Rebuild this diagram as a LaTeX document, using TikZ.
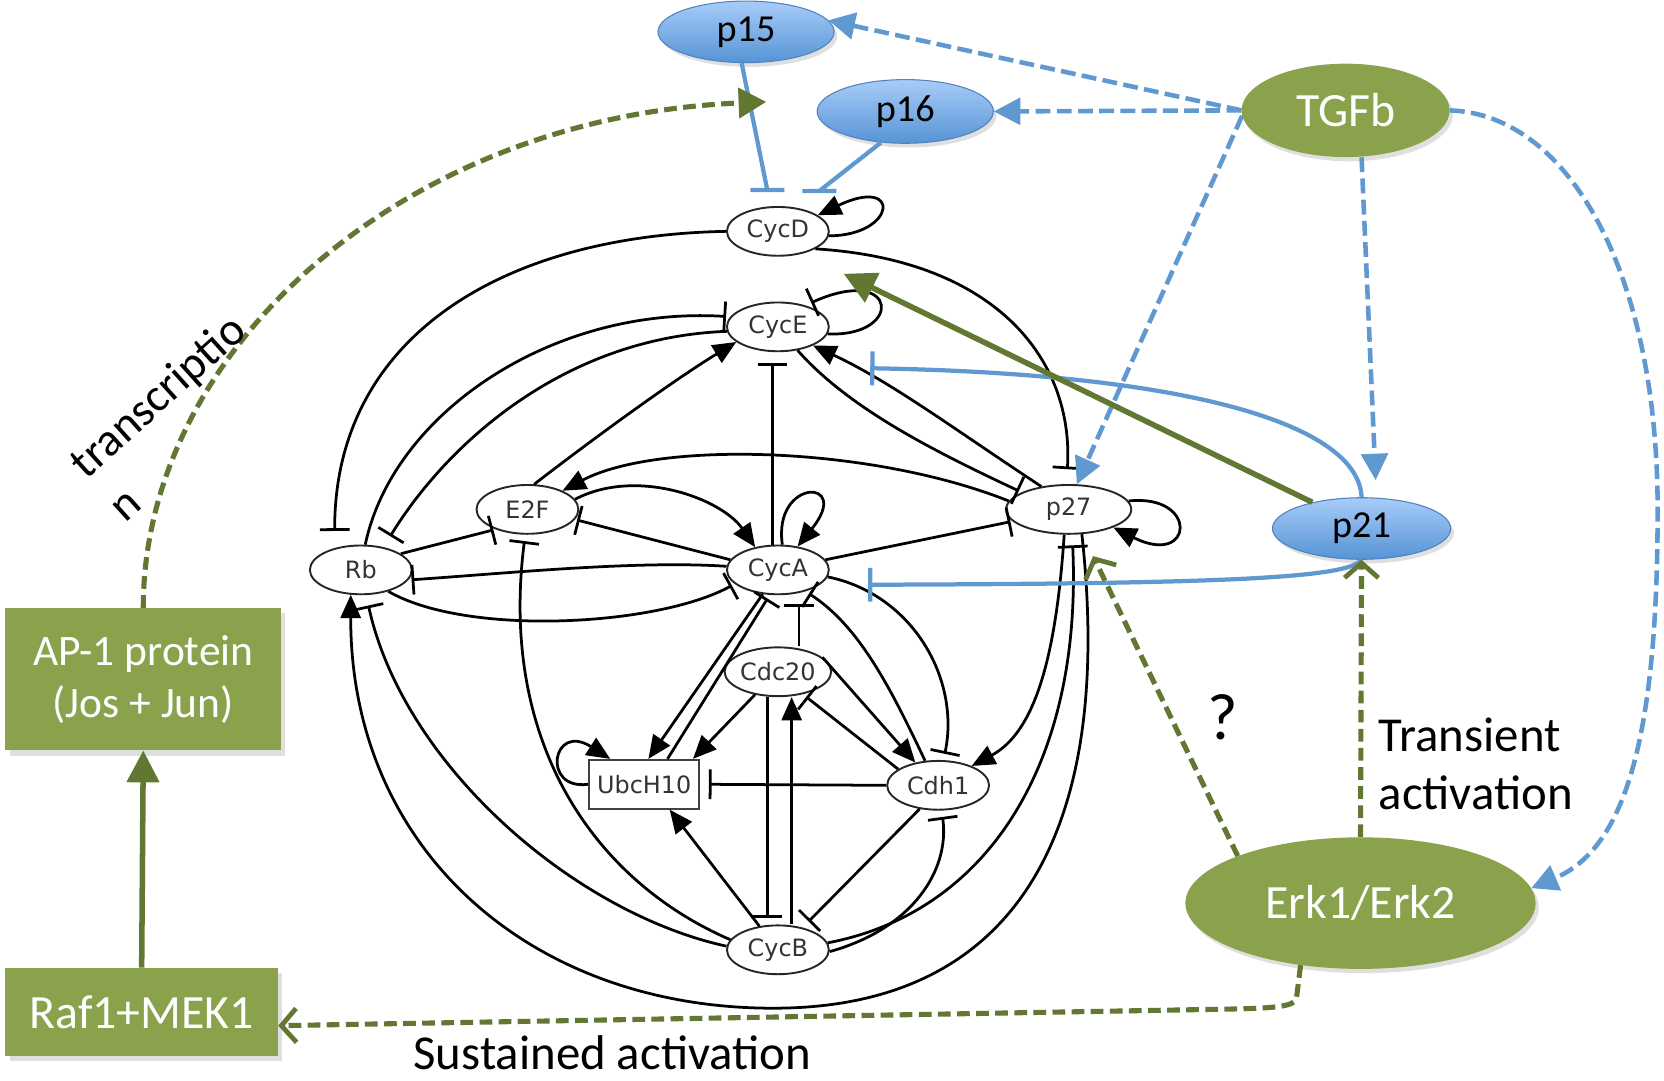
\documentclass[tikz,border=0pt]{standalone}
\usepackage{fontspec}
\setmainfont{Carlito}
\newfontfamily\netfont{DejaVu Sans}
\usetikzlibrary{arrows.meta,shapes.geometric,shadows}
\definecolor{bluetop}{RGB}{168,204,248}
\definecolor{bluebot}{RGB}{86,148,214}
\definecolor{blueedge}{RGB}{80,130,190}
\definecolor{blueline}{RGB}{96,152,208}
\definecolor{olivefill}{RGB}{139,162,76}
\definecolor{olivedark}{RGB}{98,119,50}
\begin{document}
\begin{tikzpicture}[x=1pt,y=-1pt,
  netnode/.style={ellipse, draw=black!85, line width=1.8pt, minimum width=96pt, minimum height=46pt, inner sep=0pt, font=\netfont\fontsize{22.5}{26}\selectfont, text=black!80, fill=white},
  netbox/.style={rectangle, draw=black!75, line width=1.8pt, minimum width=104pt, minimum height=46pt, inner sep=0pt, font=\netfont\fontsize{22.5}{26}\selectfont, text=black!80, fill=white},
  net/.style={line width=2.6pt, black},
  act/.style={net, -{Triangle[length=22pt,width=19pt]}},
  inh/.style={net, -{Bar[width=28pt]}},
  bluenode/.style={ellipse, draw=blueedge, line width=1pt, top color=bluetop, bottom color=bluebot, minimum width=166pt, minimum height=58pt, inner sep=0pt, font=\fontsize{36}{42}\selectfont, text=black, drop shadow={opacity=0.25, shadow xshift=3pt, shadow yshift=-4pt}},
  olivenode/.style={ellipse, fill=olivefill, inner sep=0pt, text=white, font=\fontsize{45}{52}\selectfont, drop shadow={opacity=0.25, shadow xshift=3pt, shadow yshift=-4pt}},
  olivebox/.style={rectangle, fill=olivefill, inner sep=0pt, text=white, align=center, drop shadow={opacity=0.25, shadow xshift=4pt, shadow yshift=-5pt}},
  blueln/.style={blueline, line width=4pt},
  bluet/.style={blueln, -{Bar[width=32pt]}},
  bluedash/.style={blueline, line width=4.3pt, dash pattern=on 14pt off 6pt, -{Triangle[length=25pt,width=25pt]}},
  olivedash/.style={olivedark, line width=4.8pt, dash pattern=on 12pt off 6pt, -{Straight Barb[length=14pt,width=32pt,line width=4.5pt]}},
  olivesolid/.style={olivedark, line width=5.2pt, -{Triangle[length=30pt,width=30pt]}},
  lbl/.style={inner sep=0pt, text=black, font=\fontsize{46}{55}\selectfont}
]
\useasboundingbox (0,0) rectangle (1568,1018);

% ---------- network nodes
\node[netnode] (CycD) at (733,218) {CycD};
\node[netnode] (CycE) at (733,308) {CycE};
\node[netnode] (E2F) at (497,480) {E2F};
\node[netnode] (Rb) at (340,537) {Rb};
\node[netnode] (CycA) at (733,537) {CycA};
\node[netnode, minimum width=118pt] (p27) at (1007,480) {p27};
\node[netnode] (Cdc20) at (733,633) {Cdc20};
\node[netbox] (Ubc) at (607,739) {UbcH10};
\node[netnode] (Cdh1) at (884,740) {Cdh1};
\node[netnode] (CycB) at (733,895) {CycB};

% ---------- network edges
\draw[act] (CycD.-5) .. controls (845,222) and (850,165) .. (CycD.22);
\draw[inh, shorten >=16pt] (CycD.180) .. controls (470,222) and (315,320) .. (Rb.140);
\draw[inh, shorten >=14pt] (CycD.-25) .. controls (940,245) and (1012,340) .. (p27.95);
\draw[inh, shorten >=6pt] (CycE.-8) .. controls (852,318) and (847,248) .. (CycE.38);
\draw[inh, shorten >=4pt] (Rb.80) .. controls (370,390) and (520,288) .. (CycE.168);
\draw[inh, shorten >=12pt] (CycE.185) .. controls (530,318) and (420,420) .. (Rb.45);
\draw[act] (E2F.75) .. controls (570,405) and (640,355) .. (CycE.200);
\draw[inh, shorten >=10pt] ([xshift=-5pt]CycA.north) -- ([xshift=-5pt]CycE.south);
\draw[act] (p27.140) .. controls (900,405) and (840,360) .. (CycE.-28);
\draw[inh, shorten >=3pt] (CycE.-50) .. controls (800,385) and (880,425) .. (p27.160);
\draw[act] (p27.172) .. controls (820,420) and (620,415) .. (E2F.28);
\draw[act] (E2F.12) .. controls (600,440) and (680,470) .. (CycA.135);
\draw[inh, shorten >=2pt] (CycA.168) -- (E2F.-12);
\draw[act] (CycA.80) .. controls (728,450) and (804,450) .. (CycA.50);
\draw[inh, shorten >=2pt] (CycA.12) -- (p27.192);
\draw[inh, shorten >=2pt] (Rb.22) -- (E2F.212);
\draw[inh, shorten >=3pt] (CycA.176) .. controls (600,528) and (480,540) .. (Rb.-12);
\draw[inh, shorten >=3pt] (Rb.-38) .. controls (440,600) and (620,590) .. (CycA.198);
\draw[inh, shorten >=6pt] (CycB.168) .. controls (560,830) and (470,700) .. (E2F.-95);
\draw[inh, shorten >=10pt] (CycB.176) .. controls (540,860) and (380,720) .. (Rb.-78);
\draw[act] (p27.-62) .. controls (1050,780) and (960,948) .. (733,950) .. controls (500,952) and (330,800) .. (Rb.-112);
\draw[act] (CycA.238) -- ([xshift=4pt]Ubc.north);
\draw[inh, shorten >=4pt] ([xshift=22pt]Ubc.north) -- (CycA.252);
\draw[inh, shorten >=8pt] ([xshift=20pt]Cdc20.north) -- ([xshift=20pt]CycA.south);
\draw[act] (Cdc20.225) -- ([xshift=46pt]Ubc.north);
\draw[act] (Ubc.west) .. controls (510,745) and (520,680) .. ([xshift=-32pt]Ubc.north);
\draw[inh, shorten >=8pt] (Cdh1.west) -- (Ubc.east);
\draw[act] (CycB.128) -- ([xshift=24pt]Ubc.south);
\draw[inh, shorten >=6pt] ([xshift=-10pt]Cdc20.south) -- ([xshift=-10pt]CycB.north);
\draw[act] ([xshift=13pt]CycB.north) -- ([xshift=13pt]Cdc20.south);
\draw[act] (Cdc20.18) -- (Cdh1.135);
\draw[inh, shorten >=4pt] (Cdh1.158) -- (Cdc20.-42);
\draw[inh, shorten >=4pt] (Cdh1.118) .. controls (840,650) and (810,590) .. (CycA.-38);
\draw[inh, shorten >=6pt] (CycA.-8) .. controls (860,560) and (905,640) .. (Cdh1.78);
\draw[act] (p27.-100) .. controls (995,620) and (975,690) .. (Cdh1.30);
\draw[inh, shorten >=10pt] (CycB.8) .. controls (930,860) and (1020,720) .. (p27.-82);
\draw[inh, shorten >=8pt] (Cdh1.232) -- (CycB.42);
\draw[inh, shorten >=6pt] (CycB.-2) .. controls (860,875) and (895,820) .. (Cdh1.-82);
\draw[act] (p27.8) .. controls (1130,465) and (1125,535) .. (p27.-22);

% ---------- coloured nodes
\node[bluenode] (p15) at (703,30) {p15};
\node[bluenode, minimum height=60pt] (p16) at (853,105) {p16};
\node[olivenode, minimum width=196pt, minimum height=88pt] (TGFb) at (1268,104) {TGFb};
\node[bluenode, minimum width=168pt] (p21) at (1283,498) {p21};
\node[olivenode, minimum width=330pt, minimum height=124pt] (Erk) at (1282,851) {Erk1/Erk2};
\node[olivebox, minimum width=260pt, minimum height=134pt, font=\fontsize{41}{49}\selectfont] (AP1) at (135,640) {AP-1 protein\\(Jos + Jun)};
\node[olivebox, minimum width=257pt, minimum height=83pt, font=\fontsize{45}{52}\selectfont] (Raf) at (133.5,953.5) {Raf1+MEK1};

% ---------- free ends
\coordinate (tP15) at (722,96);
\coordinate (t15) at (723,179);
\coordinate (t16) at (772,180);
\coordinate (tE) at (820,347);
\coordinate (tA) at (818,551);
\coordinate (tD) at (795,258);
\coordinate (tP27) at (1030,524);
\coordinate (bendA) at (1222,938);
\coordinate (bendB) at (1150,951);

% ---------- coloured connectors
\draw[blueln] (p15.-98) -- (t15) ([xshift=-16pt]t15) -- ([xshift=16pt]t15);
\draw[blueln] (p16.232) -- (t16) ([xshift=-16pt]t16) -- ([xshift=16pt]t16);
\draw[bluedash] (TGFb.180) -- (p15.8);
\draw[bluedash] (TGFb.180) -- (p16.east);
\draw[bluedash] (TGFb.183) -- (p27.72);
\draw[bluedash, shorten >=16pt] ([xshift=15pt]TGFb.south) -- ([xshift=14pt]p21.north);
\draw[bluedash] (TGFb.east) .. controls (1480,108) and (1562,260) .. (1562,480) .. controls (1562,700) and (1530,800) .. (Erk.5);
\draw[bluet] (p21.north) .. controls (1280,400) and (1120,352) .. (tE);
\draw[bluet] (p21.south) .. controls (1270,545) and (1150,550) .. (tA);
\draw[olivesolid] (p21.152) -- (tD);
\draw[olivedash] (Erk.north) -- (p21.south);
\draw[olivedash] (Erk.159) -- (tP27);
\draw[olivedash] (Erk.-134) -- (bendA) .. controls (1222,948) and (1210,950) .. (bendB) -- ([yshift=-13pt]Raf.east);
\draw[olivesolid] (Raf.north) -- (AP1.south);
\draw[olivedash, -{Triangle[length=26pt,width=28pt]}] (AP1.north) .. controls (135,330) and (380,110) .. (tP15);

% ---------- labels
\node[lbl, rotate=42, align=left, font=\fontsize{44}{55}\selectfont] (txt) at (166,393) {transcriptio\\n};
\node[lbl, font=\fontsize{62}{70}\selectfont] (q) at (1152,676) {?};
\node[lbl, anchor=west, align=left] (trans) at (1299,720) {Transient\\activation};
\node[lbl] (sust) at (577,992) {Sustained activation};
\end{tikzpicture}
\end{document}
